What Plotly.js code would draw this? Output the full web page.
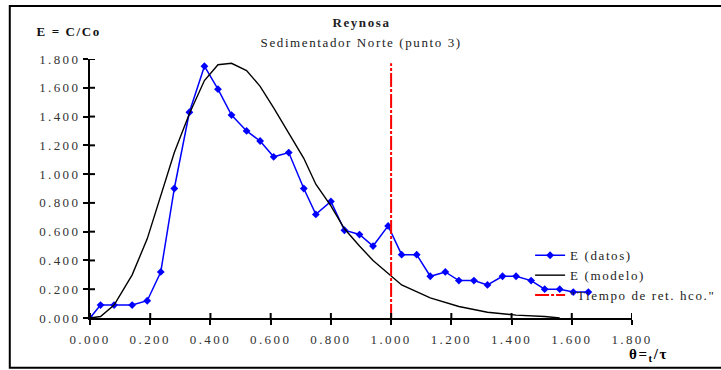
<!DOCTYPE html>
<html>
<head>
<meta charset="utf-8">
<script src="https://cdn.plot.ly/plotly-3.0.1.min.js"></script>
<style>
html,body{margin:0;padding:0;background:#fff;}
#chart{width:721px;height:370px;}
#chart .xtick text, #chart .ytick text{letter-spacing:2.4px;}
#chart .legendtext{letter-spacing:1.6px;}
#chart .annotation-text{letter-spacing:1.6px;}
#chart .legend .scrollbox{clip-path:none !important;}
</style>
</head>
<body>
<div id="chart"></div>
<script>
// Measured data (E = C/Co vs theta)
const thetaDatos = [0, 0.035, 0.08, 0.14, 0.19, 0.235, 0.28, 0.33, 0.38, 0.425, 0.47, 0.52, 0.565, 0.61, 0.66, 0.71, 0.75, 0.80, 0.845, 0.895, 0.94, 0.99, 1.035, 1.085, 1.13, 1.18, 1.225, 1.275, 1.32, 1.37, 1.415, 1.465, 1.51, 1.56, 1.605, 1.655];
const eDatos = [0, 0.09, 0.09, 0.09, 0.12, 0.32, 0.90, 1.43, 1.75, 1.59, 1.41, 1.30, 1.23, 1.12, 1.15, 0.90, 0.72, 0.81, 0.61, 0.58, 0.50, 0.64, 0.44, 0.44, 0.29, 0.32, 0.26, 0.26, 0.23, 0.29, 0.29, 0.26, 0.20, 0.20, 0.18, 0.18];
// Model curve
const thetaModelo = [0, 0.035, 0.08, 0.14, 0.19, 0.235, 0.28, 0.33, 0.38, 0.425, 0.47, 0.52, 0.565, 0.61, 0.66, 0.71, 0.75, 0.80, 0.845, 0.895, 0.94, 0.99, 1.035, 1.13, 1.225, 1.32, 1.415, 1.51, 1.56];
const eModelo = [0, 0.01, 0.09, 0.30, 0.55, 0.85, 1.15, 1.42, 1.65, 1.76, 1.77, 1.72, 1.61, 1.46, 1.29, 1.11, 0.93, 0.78, 0.62, 0.50, 0.40, 0.31, 0.23, 0.14, 0.08, 0.04, 0.02, 0.01, 0.0];
// Hydraulic retention time marker
const thetaRet = [1.0, 1.0];
const eRet = [0, 1.77];
const tickVals = [0, 0.2, 0.4, 0.6, 0.8, 1.0, 1.2, 1.4, 1.6, 1.8];

const serif = "Liberation Serif, Times New Roman, serif";

const traces = [
  {x: thetaDatos, y: eDatos, name: "E (datos)", type: "scatter", mode: "lines+markers",
   line: {color: "#0000ff", width: 1.5}, marker: {symbol: "diamond", size: 6, color: "#0000ff"}},
  {x: thetaModelo, y: eModelo, name: "E (modelo)", type: "scatter", mode: "lines",
   line: {color: "#000000", width: 1.4}},
  {x: thetaRet, y: eRet, name: "\"Tiempo de ret. hco.\"", type: "scatter", mode: "lines",
   line: {color: "#ff0000", width: 2, dash: "14px,2px,3px,2px"}}
];

const axisCommon = {
  range: [0, 1.8], tickvals: tickVals, tickformat: ".3f",
  showgrid: false, zeroline: false, showline: true, linecolor: "#000", linewidth: 2,
  tickcolor: "#000", tickwidth: 2, ticklen: 5, ticks: "outside",
  tickfont: {family: serif, size: 13, color: "#333"}
};

// crossing tick marks (inner half), positioned via the axis scales
const innerTicks = [];
tickVals.forEach(v => {
  innerTicks.push({type: "line", xref: "x", yref: "y", x0: v, x1: v, ysizemode: "pixel", yanchor: 0, y0: 0, y1: 5,
                   line: {color: "#000", width: 2}});
  innerTicks.push({type: "line", xref: "x", yref: "y", y0: v, y1: v, xsizemode: "pixel", xanchor: 0, x0: 0, x1: 5,
                   line: {color: "#000", width: 2}});
});

const layout = {
  width: 721, height: 370,
  margin: {l: 90, r: 89, t: 59, b: 52},
  paper_bgcolor: "#fff", plot_bgcolor: "#fff",
  showlegend: true,
  xaxis: Object.assign({}, axisCommon, {ticklabelstandoff: 3}),
  yaxis: Object.assign({}, axisCommon),
  legend: {x: 0.812, y: 0.30, xanchor: "left", yanchor: "top", bgcolor: "rgba(0,0,0,0)",
           font: {family: serif, size: 13, color: "#222"}, itemwidth: 30, tracegroupgap: 0},
  annotations: [
    {text: "<b>Reynosa</b>", xref: "paper", yref: "paper", x: 0.5, y: 1.139, xanchor: "center", yanchor: "middle",
     showarrow: false, font: {family: serif, size: 13, color: "#222"}},
    {text: "Sedimentador Norte (punto 3)", xref: "paper", yref: "paper", x: 0.5, y: 1.062, xanchor: "center", yanchor: "middle",
     showarrow: false, font: {family: serif, size: 13, color: "#222"}},
    {text: "<b>E = C/Co</b>", xref: "paper", yref: "paper", x: -0.04, y: 1.105, xanchor: "center", yanchor: "middle",
     showarrow: false, font: {family: serif, size: 13, color: "#111"}},
    {text: "<b>θ=<sub>t</sub>/τ</b>", xref: "paper", yref: "paper", x: 1.03, y: -0.143, xanchor: "center", yanchor: "middle",
     showarrow: false, font: {family: serif, size: 15, color: "#000"}}
  ],
  shapes: [
    {type: "rect", xref: "paper", yref: "paper", x0: -0.148, x1: 1.25, y0: -0.192, y1: 1.205,
     line: {color: "#000", width: 2}, fillcolor: "rgba(0,0,0,0)"}
  ].concat(innerTicks)
};

Plotly.newPlot("chart", traces, layout, {staticPlot: true, displayModeBar: false});
</script>
</body>
</html>
